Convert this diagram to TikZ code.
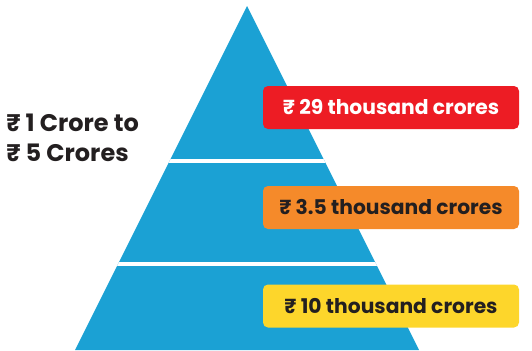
\documentclass[tikz,border=0pt]{standalone}
\usepackage{fontspec}
\setmainfont{Poppins}
\usetikzlibrary{positioning}

\definecolor{pyrblue}{HTML}{1BA1D4}
\definecolor{tierred}{HTML}{ED1C24}
\definecolor{tierorange}{HTML}{F58A2A}
\definecolor{tieryellow}{HTML}{FDD62B}
\definecolor{inkdark}{HTML}{231F20}

\tikzset{
  tierbox/.style={rounded corners=3.75pt, minimum width=192pt, minimum height=32.25pt,
    inner sep=0pt, font=\fontsize{15.2}{17}\selectfont\bfseries},
}

\begin{document}
\begin{tikzpicture}[x=0.75pt, y=-0.75pt]
		\useasboundingbox (0, 0) rectangle (532, 350);

		\coordinate (apex) at (247, 6);
		\coordinate (baseL) at (75, 350);
		\coordinate (baseR) at (419, 350);

		% pyramid with two white cuts
		\fill [pyrblue] (apex) -- (baseR) -- (baseL) -- cycle;
		\begin{scope}
			\clip (apex) -- (baseR) -- (baseL) -- cycle;
			\fill [white] (60, 159) rectangle (440, 163);
			\fill [white] (60, 262) rectangle (440, 266);
		\end{scope}

		% amounts per tier
		\node (top) [tierbox, fill=tierred, text=white] at (391, 107.5) {₹ 29 thousand crores};
		\node (mid) [tierbox, fill=tierorange, text=inkdark] at (391, 207.5) {₹ 3.5 thousand crores};
		\node (low) [tierbox, fill=tieryellow, text=inkdark] at (391, 306) {₹ 10 thousand crores};

		\node (range) [anchor=west, align=left, text=inkdark, inner sep=0pt,
			font=\fontsize{18}{22.5}\selectfont\bfseries] at (6, 138) {₹ 1 Crore to\\₹ 5 Crores};
	\end{tikzpicture}
\end{document}
